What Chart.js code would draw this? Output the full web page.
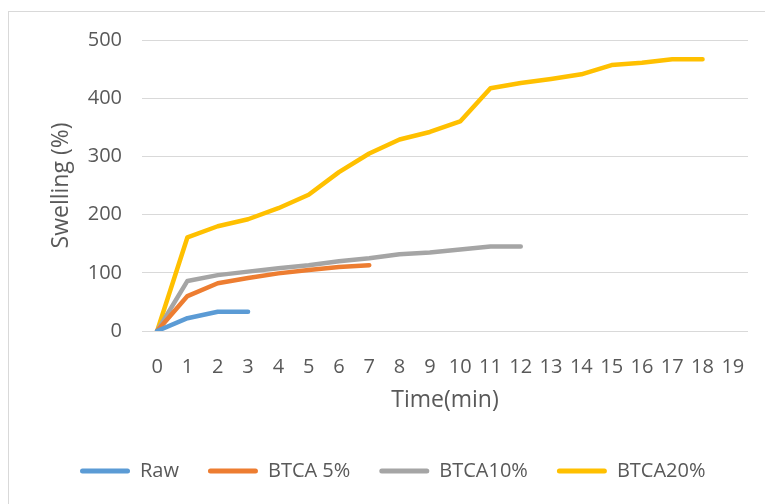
<!DOCTYPE html>
<html>
<head>
<meta charset="utf-8">
<script src="https://cdn.jsdelivr.net/npm/chart.js@4/dist/chart.umd.min.js"></script>
<style>
  html, body { margin: 0; padding: 0; background: #fff; }
  #wrap { width: 765px; height: 504px; }
</style>
</head>
<body>
<div id="wrap"><canvas id="my-chart" width="765" height="504"></canvas></div>
<script>
// time axis labels (minutes)
const timeLabels = ['0','1','2','3','4','5','6','7','8','9','10','11','12','13','14','15','16','17','18','19'];

// swelling (%) per series
const rawValues = [0, 22, 33, 33];
const btca5Values = [0, 60, 82, 91, 99, 105, 110, 113];
const btca10Values = [0, 86, 96, 102, 108, 113, 120, 125, 132, 135, 140, 145, 145];
const btca20Values = [0, 161, 180, 192, 211, 234, 273, 305, 329, 342, 360, 417, 426, 433, 441, 457, 461, 467, 467];

const seriesNames = ['Raw', 'BTCA 5%', 'BTCA10%', 'BTCA20%'];
const seriesColors = ['#5B9BD5', '#ED7D31', '#A5A5A5', '#FFC000'];

const yTicks = { min: 0, max: 500, step: 100 };

const font = "'Open Sans', 'Liberation Sans', sans-serif";
const textColor = '#595959';

function makeDataset(i, values) {
  return {
    label: seriesNames[i],
    data: values,
    borderColor: seriesColors[i],
    backgroundColor: seriesColors[i],
    borderWidth: 4.5,
    borderCapStyle: 'round',
    borderJoinStyle: 'round',
    pointRadius: 0,
    tension: 0
  };
}

// outer chart frame like the office chart box
const framePlugin = {
  id: 'frame',
  beforeDraw(chart) {
    const ctx = chart.ctx;
    ctx.save();
    ctx.strokeStyle = '#d9d9d9';
    ctx.lineWidth = 1;
    ctx.strokeRect(8.5, 11.5, chart.width + 20, chart.height + 20);
    ctx.restore();
  }
};

// move legend a bit to the right, the original box is wider than the picture
const legendShift = {
  id: 'legendShift',
  afterLayout(chart) {
    chart.legend.left += 43;
    chart.legend.right += 43;
  }
};

const ctx = document.getElementById('my-chart').getContext('2d');
const chart = new Chart(ctx, {
  type: 'line',
  data: {
    labels: timeLabels,
    datasets: [
      makeDataset(0, rawValues),
      makeDataset(1, btca5Values),
      makeDataset(2, btca10Values),
      makeDataset(3, btca20Values)
    ]
  },
  options: {
    responsive: false,
    animation: false,
    layout: { padding: { left: 8, right: 17, top: 40, bottom: 13 } },
    plugins: {
      tooltip: { enabled: false },
      legend: {
        position: 'bottom',
        align: 'start',
        labels: {
          boxWidth: 50,
          boxHeight: 5,
          padding: 29,
          color: textColor,
          font: { family: font, size: 20 },
          useBorderRadius: true,
          borderRadius: 2.5,
          generateLabels(c) {
            return Chart.defaults.plugins.legend.labels.generateLabels(c).map(l => ({ ...l, lineWidth: 0 }));
          }
        }
      }
    },
    scales: {
      x: {
        type: 'category',
        offset: true,
        grid: { display: false },
        border: { display: false },
        ticks: { color: textColor, font: { family: font, size: 20 }, padding: 16, maxRotation: 0, autoSkip: false },
        title: { display: true, text: 'Time(min)', color: textColor, font: { family: font, size: 23 }, padding: { top: 0, bottom: 18 } },
        afterFit(scale) { scale.height = 101; }
      },
      y: {
        min: yTicks.min,
        max: yTicks.max,
        grid: { color: '#d9d9d9', lineWidth: 1, drawTicks: false },
        border: { display: false },
        ticks: { stepSize: yTicks.step, color: textColor, font: { family: font, size: 20 }, padding: 20 },
        title: { display: true, text: 'Swelling (%)', color: textColor, font: { family: font, size: 23 }, padding: { top: 40, bottom: 0 } },
        afterFit(scale) { scale.width = 134; }
      }
    }
  },
  plugins: [framePlugin, legendShift]
});
</script>
</body>
</html>
